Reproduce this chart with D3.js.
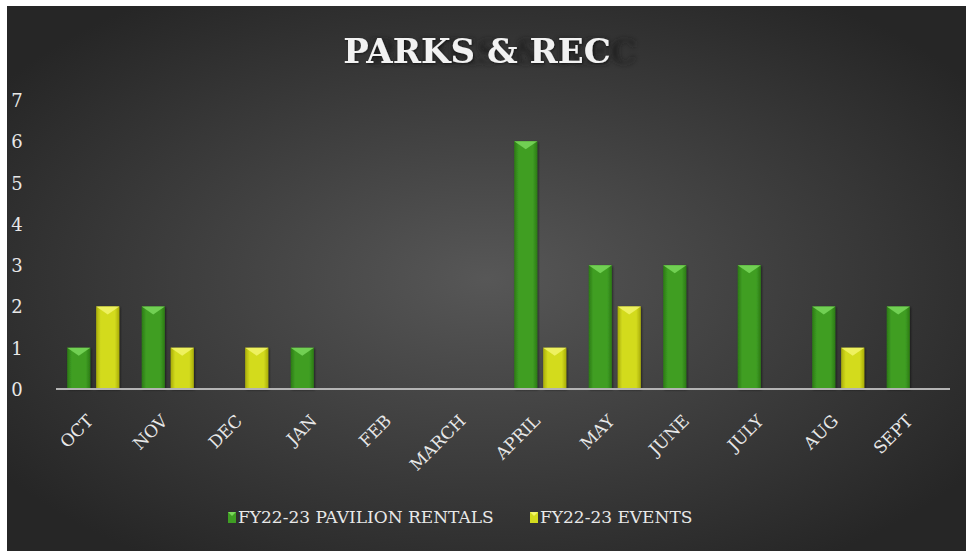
<!DOCTYPE html>
<html>
<head>
<meta charset="utf-8">
<script src="https://cdn.jsdelivr.net/npm/d3@7"></script>
<style>
  body { margin: 0; background: #fff; }
  text { font-family: "DejaVu Serif", serif; }
</style>
</head>
<body>
<svg id="chart"></svg>
<script>
// data
let months = ["OCT", "NOV", "DEC", "JAN", "FEB", "MARCH", "APRIL", "MAY", "JUNE", "JULY", "AUG", "SEPT"];
let seriesNames = ["FY22-23 PAVILION RENTALS", "FY22-23 EVENTS"];
let rentals = [1, 2, 0, 1, 0, 0, 6, 3, 3, 3, 2, 2];
let events = [2, 1, 1, 0, 0, 0, 1, 2, 0, 0, 1, 0];
let yTicks = [0, 1, 2, 3, 4, 5, 6, 7];

let W = 966, H = 551;
let margin = { top: 100, right: 16, bottom: 162, left: 56 };

let svg = d3.select("#chart")
    .attr("width", W)
    .attr("height", H)

let defs = svg.append("defs");

// background radial gradient
let bg = defs.append("radialGradient")
    .attr("id", "bg")
    .attr("cx", "50%").attr("cy", "50%").attr("r", "62%")
bg.append("stop").attr("offset", "0%").attr("stop-color", "#575757")
bg.append("stop").attr("offset", "100%").attr("stop-color", "#262626")

// bar gradients, darker at the sides
function barGrad(id, edge, mid) {
    let g = defs.append("linearGradient").attr("id", id)
        .attr("x1", "0%").attr("x2", "100%").attr("y1", "0%").attr("y2", "0%")
    g.append("stop").attr("offset", "0%").attr("stop-color", edge)
    g.append("stop").attr("offset", "20%").attr("stop-color", mid)
    g.append("stop").attr("offset", "80%").attr("stop-color", mid)
    g.append("stop").attr("offset", "100%").attr("stop-color", edge)
}
barGrad("gGreen", "#2c7a14", "#3f9e24");
barGrad("gYellow", "#a9ad08", "#d3db1e");

let blur = defs.append("filter").attr("id", "blur")
    .attr("x", "-20%").attr("y", "-50%").attr("width", "140%").attr("height", "200%")
blur.append("feGaussianBlur").attr("stdDeviation", 2.5)

let shadow = defs.append("filter").attr("id", "shadow")
shadow.append("feDropShadow").attr("dx", 1).attr("dy", 1)
    .attr("stdDeviation", 1).attr("flood-color", "#000").attr("flood-opacity", 0.5)

svg.append("rect")
    .attr("x", 7).attr("y", 6)
    .attr("width", W - 7).attr("height", H - 6)
    .attr("fill", "url(#bg)")

//title with its odd offset shadow
svg.append("text")
    .attr("x", 503).attr("y", 64)
    .attr("text-anchor", "middle")
    .attr("font-size", 34).attr("font-weight", "bold")
    .attr("fill", "#1c1c1c").attr("opacity", 0.7)
    .attr("filter", "url(#blur)")
    .text("PARKS & REC")

svg.append("text")
    .attr("x", 477).attr("y", 63)
    .attr("text-anchor", "middle")
    .attr("font-size", 34).attr("font-weight", "bold")
    .attr("fill", "#f2f2f2")
    .attr("filter", "url(#shadow)")
    .text("PARKS & REC")

let x0 = d3.scaleBand()
    .domain(months)
    .range([margin.left, W - margin.right])
    .paddingInner(0.3)
    .paddingOuter(0.15)

let x1 = d3.scaleBand()
    .domain([0, 1])
    .range([0, x0.bandwidth()])
    .paddingInner(0.2)

let y = d3.scaleLinear()
    .domain([0, 7])
    .range([H - margin.bottom, margin.top])

// y labels
svg.selectAll(".ylab")
    .data(yTicks)
    .enter()
    .append("text")
    .attr("class", "ylab")
    .attr("x", 17)
    .attr("y", d => y(d) + 7)
    .attr("text-anchor", "middle")
    .attr("font-size", 18)
    .attr("fill", "#e8e8e8")
    .text(d => d)

let data = [];
months.forEach(function (m, i) {
    data.push({ month: m, s: 0, value: rentals[i] });
    data.push({ month: m, s: 1, value: events[i] });
})

let bars = svg.selectAll(".bar")
    .data(data.filter(d => d.value > 0))
    .enter()
    .append("g")
    .attr("class", "bar")
    .attr("filter", "url(#shadow)")

bars.append("rect")
    .attr("x", d => x0(d.month) + x1(d.s))
    .attr("y", d => y(d.value))
    .attr("width", x1.bandwidth())
    .attr("height", d => y(0) - y(d.value))
    .attr("fill", d => d.s == 0 ? "url(#gGreen)" : "url(#gYellow)")

// bevel triangle on top
bars.append("path")
    .attr("d", function (d) {
        let bx = x0(d.month) + x1(d.s), bw = x1.bandwidth(), by = y(d.value);
        return "M" + bx + "," + by + "L" + (bx + bw) + "," + by +
            "L" + (bx + bw / 2) + "," + (by + 8) + "Z";
    })
    .attr("fill", d => d.s == 0 ? "#7ad85a" : "#f2f56a")
    .attr("opacity", 0.85)

// axis line
svg.append("line")
    .attr("x1", margin.left).attr("x2", W - margin.right)
    .attr("y1", y(0)).attr("y2", y(0))
    .attr("stroke", "#b4b4b4")
    .attr("stroke-width", 2)

// month labels
svg.selectAll(".xlab")
    .data(months)
    .enter()
    .append("text")
    .attr("class", "xlab")
    .attr("transform", d => "translate(" + (x0(d) + x0.bandwidth() / 2 + 1) + "," + (y(0) + 33) + ") rotate(-45)")
    .attr("text-anchor", "end")
    .attr("font-size", 17)
    .attr("fill", "#e8e8e8")
    .text(d => d)

// legend
let legend = [
    { name: seriesNames[0], color: "#3f9e24", tri: "#7ad85a", x: 228 },
    { name: seriesNames[1], color: "#d3db1e", tri: "#f2f56a", x: 530 }
];
let lg = svg.selectAll(".leg")
    .data(legend)
    .enter()
    .append("g")
    .attr("class", "leg")

lg.append("rect")
    .attr("x", d => d.x).attr("y", 512)
    .attr("width", 8).attr("height", 11)
    .attr("fill", d => d.color)

lg.append("path")
    .attr("d", d => "M" + d.x + ",512L" + (d.x + 8) + ",512L" + (d.x + 4) + ",516Z")
    .attr("fill", d => d.tri)

lg.append("text")
    .attr("x", d => d.x + 10)
    .attr("y", 523)
    .attr("font-size", 17)
    .attr("fill", "#e8e8e8")
    .text(d => d.name)
</script>
</body>
</html>
